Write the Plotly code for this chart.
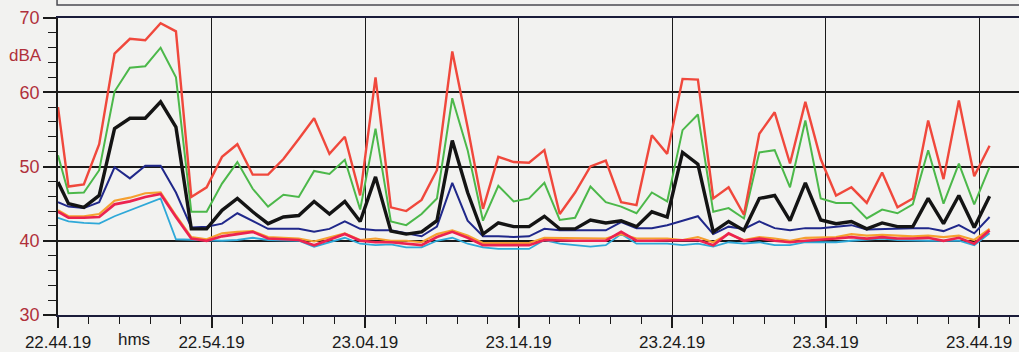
import pandas as pd
import plotly.graph_objects as go

# Sample times: start stamp, then one reading per minute
start = pd.Timestamp("2000-01-01 22:44:19")
times = [start] + list(pd.date_range("2000-01-01 22:45:00", periods=61, freq="min"))

# Sound levels in dBA per statistic
l_max = [58.0, 47.3, 47.6, 53.0, 65.2, 67.2, 67.0, 69.3, 68.2, 45.9, 47.2,
         51.3, 53.0, 48.9, 48.9, 51.0, 53.7, 56.5, 51.7, 54.0, 46.1,
         62.0, 44.5, 44.0, 45.5, 49.5, 65.5, 55.3, 44.3, 51.3, 50.6,
         50.5, 52.2, 43.6, 46.5, 50.0, 50.8, 45.2, 44.8, 54.2, 51.7,
         61.8, 61.7, 45.7, 47.2, 43.5, 54.4, 57.3, 50.4, 58.7, 51.0,
         46.1, 47.2, 45.1, 49.2, 44.5, 45.7, 56.2, 48.3, 58.9, 48.7,
         52.8]
l_10 = [51.5, 46.4, 46.5, 49.5, 60.1, 63.3, 63.5, 66.0, 62.0, 43.9, 43.9,
        47.7, 50.6, 47.0, 44.6, 46.2, 45.9, 49.4, 49.0, 50.9, 44.2,
        55.1, 42.6, 42.1, 43.6, 45.7, 59.2, 52.2, 42.7, 47.4, 45.3,
        45.7, 47.8, 42.8, 43.1, 47.3, 45.2, 44.6, 43.7, 46.5, 45.3,
        54.9, 57.0, 43.9, 44.4, 43.0, 51.9, 52.2, 47.2, 56.2, 45.7,
        45.1, 45.1, 43.0, 44.2, 43.7, 44.9, 52.2, 45.0, 50.4, 44.9,
        49.9]
l_eq = [47.9, 45.0, 44.5, 46.1, 55.1, 56.5, 56.5, 58.7, 55.3, 41.6, 41.6,
        44.1, 45.7, 43.9, 42.3, 43.2, 43.4, 45.3, 43.6, 45.3, 42.6,
        48.6, 41.3, 40.9, 41.2, 42.7, 53.5, 46.5, 40.9, 42.4, 41.9,
        41.9, 43.3, 41.6, 41.6, 42.8, 42.4, 42.7, 41.9, 43.9, 43.2,
        51.9, 50.3, 41.2, 42.6, 41.4, 45.7, 46.1, 42.7, 47.8, 42.8,
        42.3, 42.6, 41.6, 42.4, 41.9, 41.9, 45.7, 42.3, 46.1, 41.8,
        46.0]
l_50 = [45.2, 44.6, 44.4, 45.2, 49.9, 48.4, 50.1, 50.1, 46.5, 41.8, 41.9,
        42.3, 43.7, 42.7, 41.6, 41.6, 41.6, 41.2, 41.6, 42.6, 41.6,
        41.4, 41.4, 41.0, 40.6, 41.9, 47.8, 42.7, 40.6, 40.6, 40.5,
        40.6, 41.6, 41.4, 41.4, 41.4, 41.4, 42.5, 41.7, 41.7, 42.1,
        42.7, 43.3, 40.9, 41.9, 41.6, 42.6, 41.7, 41.4, 41.7, 41.7,
        41.9, 42.1, 41.5, 41.6, 41.6, 41.7, 41.7, 41.3, 42.1, 41.0,
        43.2]
l_90 = [44.1, 43.3, 43.3, 43.6, 45.4, 45.8, 46.4, 46.5, 43.4, 40.5, 40.2,
        41.0, 41.2, 41.3, 40.5, 40.4, 40.3, 39.9, 40.5, 41.0, 40.1,
        40.3, 40.0, 40.0, 39.8, 40.9, 41.4, 40.7, 39.7, 39.7, 39.7,
        39.7, 40.4, 40.4, 40.3, 40.3, 40.3, 40.9, 40.3, 40.3, 40.3,
        40.1, 40.5, 39.8, 40.9, 40.1, 40.5, 40.3, 40.0, 40.4, 40.4,
        40.5, 40.9, 40.7, 40.8, 40.7, 40.6, 40.7, 40.5, 40.7, 40.1,
        41.6]
l_95 = [43.9, 43.1, 43.1, 43.2, 44.9, 45.3, 45.9, 46.3, 43.2, 40.3, 40.0,
        40.6, 40.9, 41.2, 40.3, 40.2, 40.1, 39.4, 40.1, 40.9, 40.0,
        39.8, 39.8, 39.6, 39.4, 40.5, 41.2, 40.4, 39.4, 39.4, 39.4,
        39.4, 40.1, 40.0, 40.0, 40.0, 40.0, 41.2, 40.0, 40.0, 40.0,
        40.0, 40.1, 39.4, 41.0, 40.0, 40.3, 40.0, 39.8, 40.0, 40.1,
        40.3, 40.5, 40.3, 40.5, 40.3, 40.3, 40.4, 40.0, 40.4, 39.6,
        41.4]
l_min = [43.1, 42.6, 42.4, 42.3, 43.3, 44.1, 44.9, 45.7, 40.2, 40.1, 40.0,
         40.0, 40.1, 40.4, 40.1, 40.1, 40.0, 39.2, 39.8, 40.4, 39.6,
         39.4, 39.5, 39.1, 39.1, 40.0, 40.4, 39.6, 39.1, 38.9, 38.9,
         38.9, 40.1, 39.6, 39.4, 39.2, 39.4, 40.9, 39.6, 39.6, 39.6,
         39.4, 39.6, 39.2, 39.8, 39.6, 39.8, 39.4, 39.4, 39.8, 39.8,
         39.8, 40.0, 40.1, 40.3, 40.1, 40.0, 40.0, 40.0, 40.0, 39.4,
         41.0]

# drawing order: bottom lines first, Leq on top
series = [
    ("Lmin", l_min, "#2ea8d8", 1.8),
    ("L90", l_90, "#f5a030", 2.2),
    ("L95", l_95, "#ec2350", 2.7),
    ("L50", l_50, "#20288a", 2.0),
    ("L10", l_10, "#4cb84a", 2.0),
    ("Lmax", l_max, "#f0483c", 2.4),
    ("Leq", l_eq, "#141414", 3.4),
]

fig = go.Figure()
for name, vals, color, width in series:
    fig.add_trace(go.Scatter(x=times, y=vals, mode="lines", name=name,
                             line=dict(color=color, width=width),
                             showlegend=False, hoverinfo="skip"))

axis_red = "#b0303a"
fig.update_layout(
    width=1019, height=352,
    margin=dict(l=58, r=0, t=18, b=37),
    paper_bgcolor="#f2f2f0", plot_bgcolor="#f2f2f0",
    font=dict(family="Liberation Sans, Arial, sans-serif"),
    xaxis=dict(
        type="date",
        range=["2000-01-01 22:44:19", "2000-01-01 23:46:55"],
        tick0="2000-01-01 22:44:19", dtick=600000,
        tickformat="%H.%M.%S",
        tickfont=dict(size=17, color="#1a1a1a"),
        ticks="outside", ticklen=11, tickwidth=1.5, tickcolor="#1a1a1a",
        showgrid=True, gridcolor="#1a1a1a", gridwidth=1.4,
        showline=True, linecolor="#1a1c3a", linewidth=2, mirror=True,
        zeroline=False,
        minor=dict(tick0="2000-01-01 22:44:19", dtick=120000, ticks="outside",
                   ticklen=7, tickwidth=1.3, tickcolor="#1a1a1a", showgrid=False),
    ),
    yaxis=dict(
        range=[30, 70], dtick=10, tick0=30,
        tickfont=dict(size=18, color=axis_red),
        ticks="outside", ticklen=13, tickwidth=1.5, tickcolor="#1a1a1a",
        showgrid=True, gridcolor="#1a1a1a", gridwidth=1.6,
        showline=True, linecolor="#1a1a1a", linewidth=1.5,
        zeroline=False,
        minor=dict(dtick=2, ticks="outside", ticklen=8, tickwidth=1.3,
                   tickcolor="#1a1a1a", showgrid=False),
    ),
    annotations=[
        dict(text="dBA", xref="paper", yref="y", x=-0.0333, y=64.9,
             xanchor="center", yanchor="middle", showarrow=False,
             font=dict(size=17, color=axis_red)),
        dict(text="hms", xref="paper", yref="paper", x=0.079, y=-0.084,
             xanchor="center", yanchor="middle", showarrow=False,
             font=dict(size=17, color="#1a1a1a")),
    ],
    shapes=[
        dict(type="rect", xref="paper", yref="paper",
             x0=-0.001, x1=1.05, y0=1.044, y1=1.3,
             line=dict(color="#4a4a50", width=1.5)),
    ],
)

fig.write_html("out.html")
